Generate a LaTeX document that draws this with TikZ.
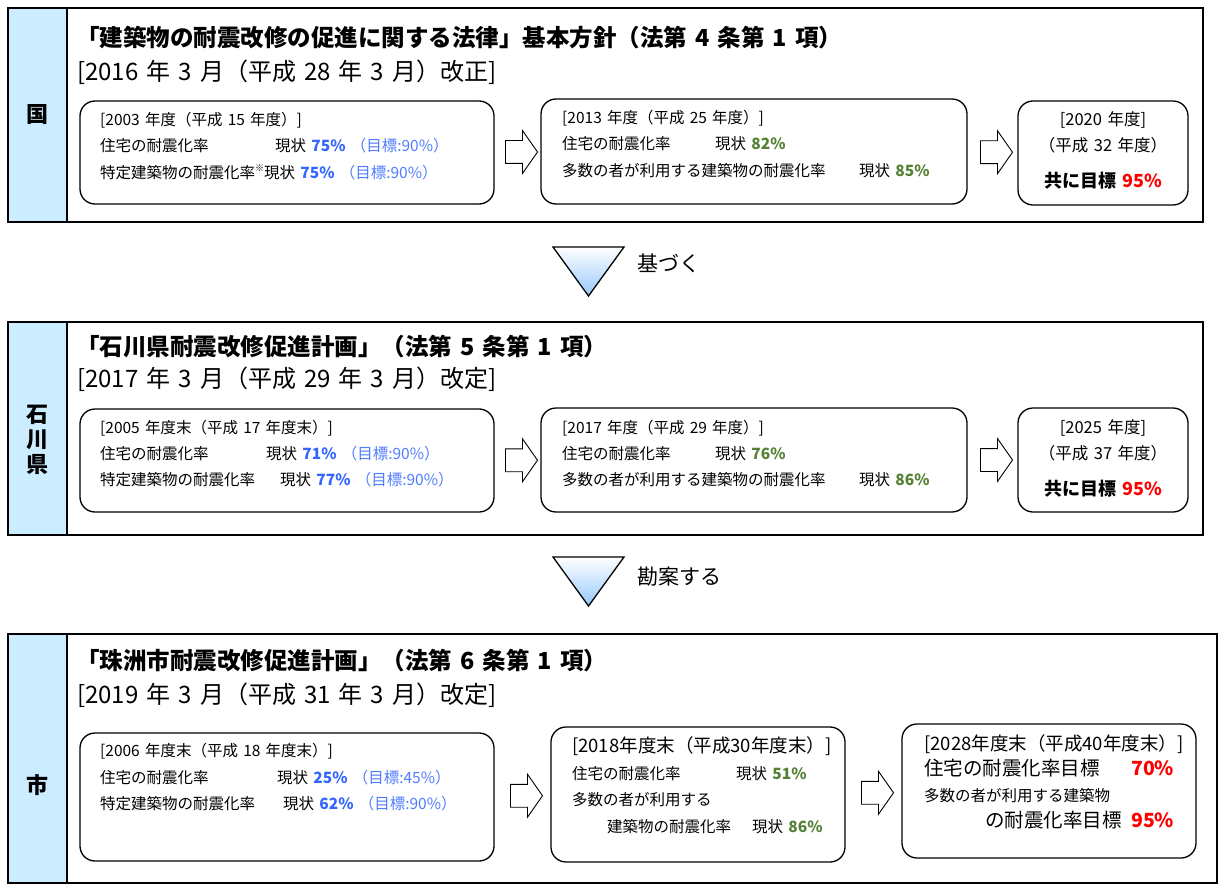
\documentclass[tikz,border=0pt]{standalone}
\usepackage{fontspec}
\setmainfont{Noto Sans CJK JP}[WordSpace=1.5]
\usetikzlibrary{shapes.arrows,calc}

\definecolor{sideblue}{RGB}{204,236,255}
\definecolor{triblue}{RGB}{150,200,250}
\definecolor{nowblue}{RGB}{51,102,255}
\definecolor{goalblue}{RGB}{80,125,255}
\definecolor{nowgreen}{RGB}{84,130,53}
\definecolor{goalred}{RGB}{255,0,0}

\newcommand\nowB[1]{{\bfseries\color{nowblue}#1}}
\newcommand\goalB[1]{{\color{goalblue}#1}}
\newcommand\nowG[1]{{\bfseries\color{nowgreen}#1}}
\newcommand\goalR[1]{{\bfseries\color{goalred}#1}}
\newcommand\fs[1]{\fontsize{#1}{#1}\selectfont}
\newcommand\kome{\raisebox{.45em}{\fs{9}※}}

\begin{document}
\begin{tikzpicture}[x=1pt,y=-1pt,
  panel/.style={draw,line width=1.4pt},
  side/.style={draw,line width=1.4pt,fill=sideblue},
  rbox/.style={draw,line width=1.3pt,rounded corners=15pt,fill=white},
  blockarrow/.style={single arrow,draw,line width=0.9pt,fill=white,
    inner xsep=0pt,inner ysep=11pt,minimum height=32pt,
    single arrow head extend=10pt,single arrow tip angle=110},
  tri/.style={draw,line width=1.3pt,top color=white,bottom color=triblue},
  txt/.style={anchor=west,inner sep=0pt,text height=.88em,text depth=.12em,font=\fs{15.5}},
  ctxt/.style={txt,anchor=center,font=\fs{16.5}},
  bigtxt/.style={txt,font=\fs{19.5}},
  title/.style={txt,font=\fs{23.5}\bfseries},
  sub/.style={txt,font=\fs{24}},
  sidetxt/.style={inner sep=0pt,font=\fontsize{22}{25}\selectfont\bfseries,align=center},
  flow/.style={txt,font=\fs{21}}]

\useasboundingbox (0,0) rectangle (1225,893);

% Country
\draw[panel] (8,8) rectangle (1203,222);
\draw[side] (8,8) rectangle (67,222);
\node[sidetxt] (kuni) at (37.5,115) {国};
\node[title] (t1) at (76,43) {「建築物の耐震改修の促進に関する法律」基本方針（法第 4 条第 1 項）};
\node[sub] (s1) at (77,77) {[2016 年 3 月（平成 28 年 3 月）改正]};

\node[rbox,minimum width=414pt,minimum height=103pt] (k1a) at (287,152.5) {};
\node[rbox,minimum width=426pt,minimum height=105pt] (k1b) at (754,151.5) {};
\node[rbox,minimum width=170pt,minimum height=104pt] (k1c) at (1103,153) {};
\node[blockarrow] (a1ab) at ($(k1a.east)!.5!(k1b.west)$) {};
\node[blockarrow] (a1bc) at ($(k1b.east)!.5!(k1c.west)$) {};

\node[txt] (k1a1) at (100,122) {[2003 年度（平成 15 年度）]};
\node[txt] (k1a2) at (100,148) {住宅の耐震化率};
\node[txt] (k1a2v) at (275,148) {現状 \nowB{75\%} \goalB{（目標:90\%）}};
\node[txt] (k1a3) at (100,175) {特定建築物の耐震化率\kome 現状 \nowB{75\%} \goalB{（目標:90\%）}};

\node[txt] (k1b1) at (562,120) {[2013 年度（平成 25 年度）]};
\node[txt] (k1b2) at (562,146) {住宅の耐震化率};
\node[txt] (k1b2v) at (715,146) {現状 \nowG{82\%}};
\node[txt] (k1b3) at (562,173) {多数の者が利用する建築物の耐震化率};
\node[txt] (k1b3v) at (859,173) {現状 \nowG{85\%}};

\node[ctxt] (k1c1) at (1103,122) {[2020 年度]};
\node[ctxt] (k1c2) at (1103,148) {（平成 32 年度）};
\node[ctxt,font=\fs{18}\bfseries] (k1c3) at (1103,184) {共に目標 \goalR{95\%}};

% based on
\draw[tri] (553,247) -- (624,247) -- (588.5,296) -- cycle;
\node[flow] (f1) at (637,268) {基づく};

% Prefecture
\draw[panel] (8,322) rectangle (1203,535);
\draw[side] (8,322) rectangle (67,535);
\node[sidetxt] (ken) at (37.5,440) {石\\川\\県};
\node[title] (t2) at (76,352) {「石川県耐震改修促進計画」（法第 5 条第 1 項）};
\node[sub] (s2) at (77,384) {[2017 年 3 月（平成 29 年 3 月）改定]};

\node[rbox,minimum width=414pt,minimum height=103pt] (k2a) at (287,460.5) {};
\node[rbox,minimum width=426pt,minimum height=104pt] (k2b) at (754,460) {};
\node[rbox,minimum width=170pt,minimum height=104pt] (k2c) at (1103,460) {};
\node[blockarrow] (a2ab) at ($(k2a.east)!.5!(k2b.west)$) {};
\node[blockarrow] (a2bc) at ($(k2b.east)!.5!(k2c.west)$) {};

\node[txt] (k2a1) at (100,430) {[2005 年度末（平成 17 年度末）]};
\node[txt] (k2a2) at (100,456) {住宅の耐震化率};
\node[txt] (k2a2v) at (266,456) {現状 \nowB{71\%} \goalB{（目標:90\%）}};
\node[txt] (k2a3) at (100,482) {特定建築物の耐震化率};
\node[txt] (k2a3v) at (280,482) {現状 \nowB{77\%} \goalB{（目標:90\%）}};

\node[txt] (k2b1) at (562,430) {[2017 年度（平成 29 年度）]};
\node[txt] (k2b2) at (562,456) {住宅の耐震化率};
\node[txt] (k2b2v) at (715,456) {現状 \nowG{76\%}};
\node[txt] (k2b3) at (562,482) {多数の者が利用する建築物の耐震化率};
\node[txt] (k2b3v) at (859,482) {現状 \nowG{86\%}};

\node[ctxt] (k2c1) at (1103,430) {[2025 年度]};
\node[ctxt] (k2c2) at (1103,456) {（平成 37 年度）};
\node[ctxt,font=\fs{18}\bfseries] (k2c3) at (1103,492) {共に目標 \goalR{95\%}};

% take into account
\draw[tri] (553,557) -- (624,557) -- (588.5,606) -- cycle;
\node[flow] (f2) at (637,581) {勘案する};

% City
\draw[panel] (8,634) rectangle (1217,883);
\draw[side] (8,634) rectangle (67,883);
\node[sidetxt] (shi) at (37.5,785) {市};
\node[title] (t3) at (76,666) {「珠洲市耐震改修促進計画」（法第 6 条第 1 項）};
\node[sub] (s3) at (77,700) {[2019 年 3 月（平成 31 年 3 月）改定]};

\node[rbox,minimum width=414pt,minimum height=128pt] (k3a) at (287,797) {};
\node[rbox,minimum width=294pt,minimum height=135pt] (k3b) at (698,794.5) {};
\node[rbox,minimum width=294pt,minimum height=134pt] (k3c) at (1049,791) {};
\node[blockarrow] (a3ab) at ($(k3a.east)!.5!(k3b.west)$) {};
\node[blockarrow] (a3bc) at ($(k3b.east)!.5!(k3c.west)$) {};

\node[txt] (k3a1) at (100,753) {[2006 年度末（平成 18 年度末）]};
\node[txt] (k3a2) at (100,780) {住宅の耐震化率};
\node[txt] (k3a2v) at (277,780) {現状 \nowB{25\%} \goalB{（目標:45\%）}};
\node[txt] (k3a3) at (100,806) {特定建築物の耐震化率};
\node[txt] (k3a3v) at (283,806) {現状 \nowB{62\%} \goalB{（目標:90\%）}};

\node[txt,font=\fs{18.5}] (k3b1) at (572,749) {[2018年度末（平成30年度末）]};
\node[txt] (k3b2) at (572,776) {住宅の耐震化率};
\node[txt] (k3b2v) at (736,776) {現状 \nowG{51\%}};
\node[txt] (k3b3) at (572,802) {多数の者が利用する};
\node[txt] (k3b4) at (607,829) {建築物の耐震化率};
\node[txt] (k3b4v) at (752,829) {現状 \nowG{86\%}};

\node[txt,font=\fs{18.5}] (k3c1) at (924,747) {[2028年度末（平成40年度末）]};
\node[bigtxt] (k3c2) at (924,772) {住宅の耐震化率目標};
\node[bigtxt] (k3c2v) at (1131,772) {\goalR{70\%}};
\node[txt] (k3c3) at (924,798) {多数の者が利用する建築物};
\node[bigtxt] (k3c4) at (985,824) {の耐震化率目標};
\node[bigtxt] (k3c4v) at (1131,824) {\goalR{95\%}};

\end{tikzpicture}
\end{document}
